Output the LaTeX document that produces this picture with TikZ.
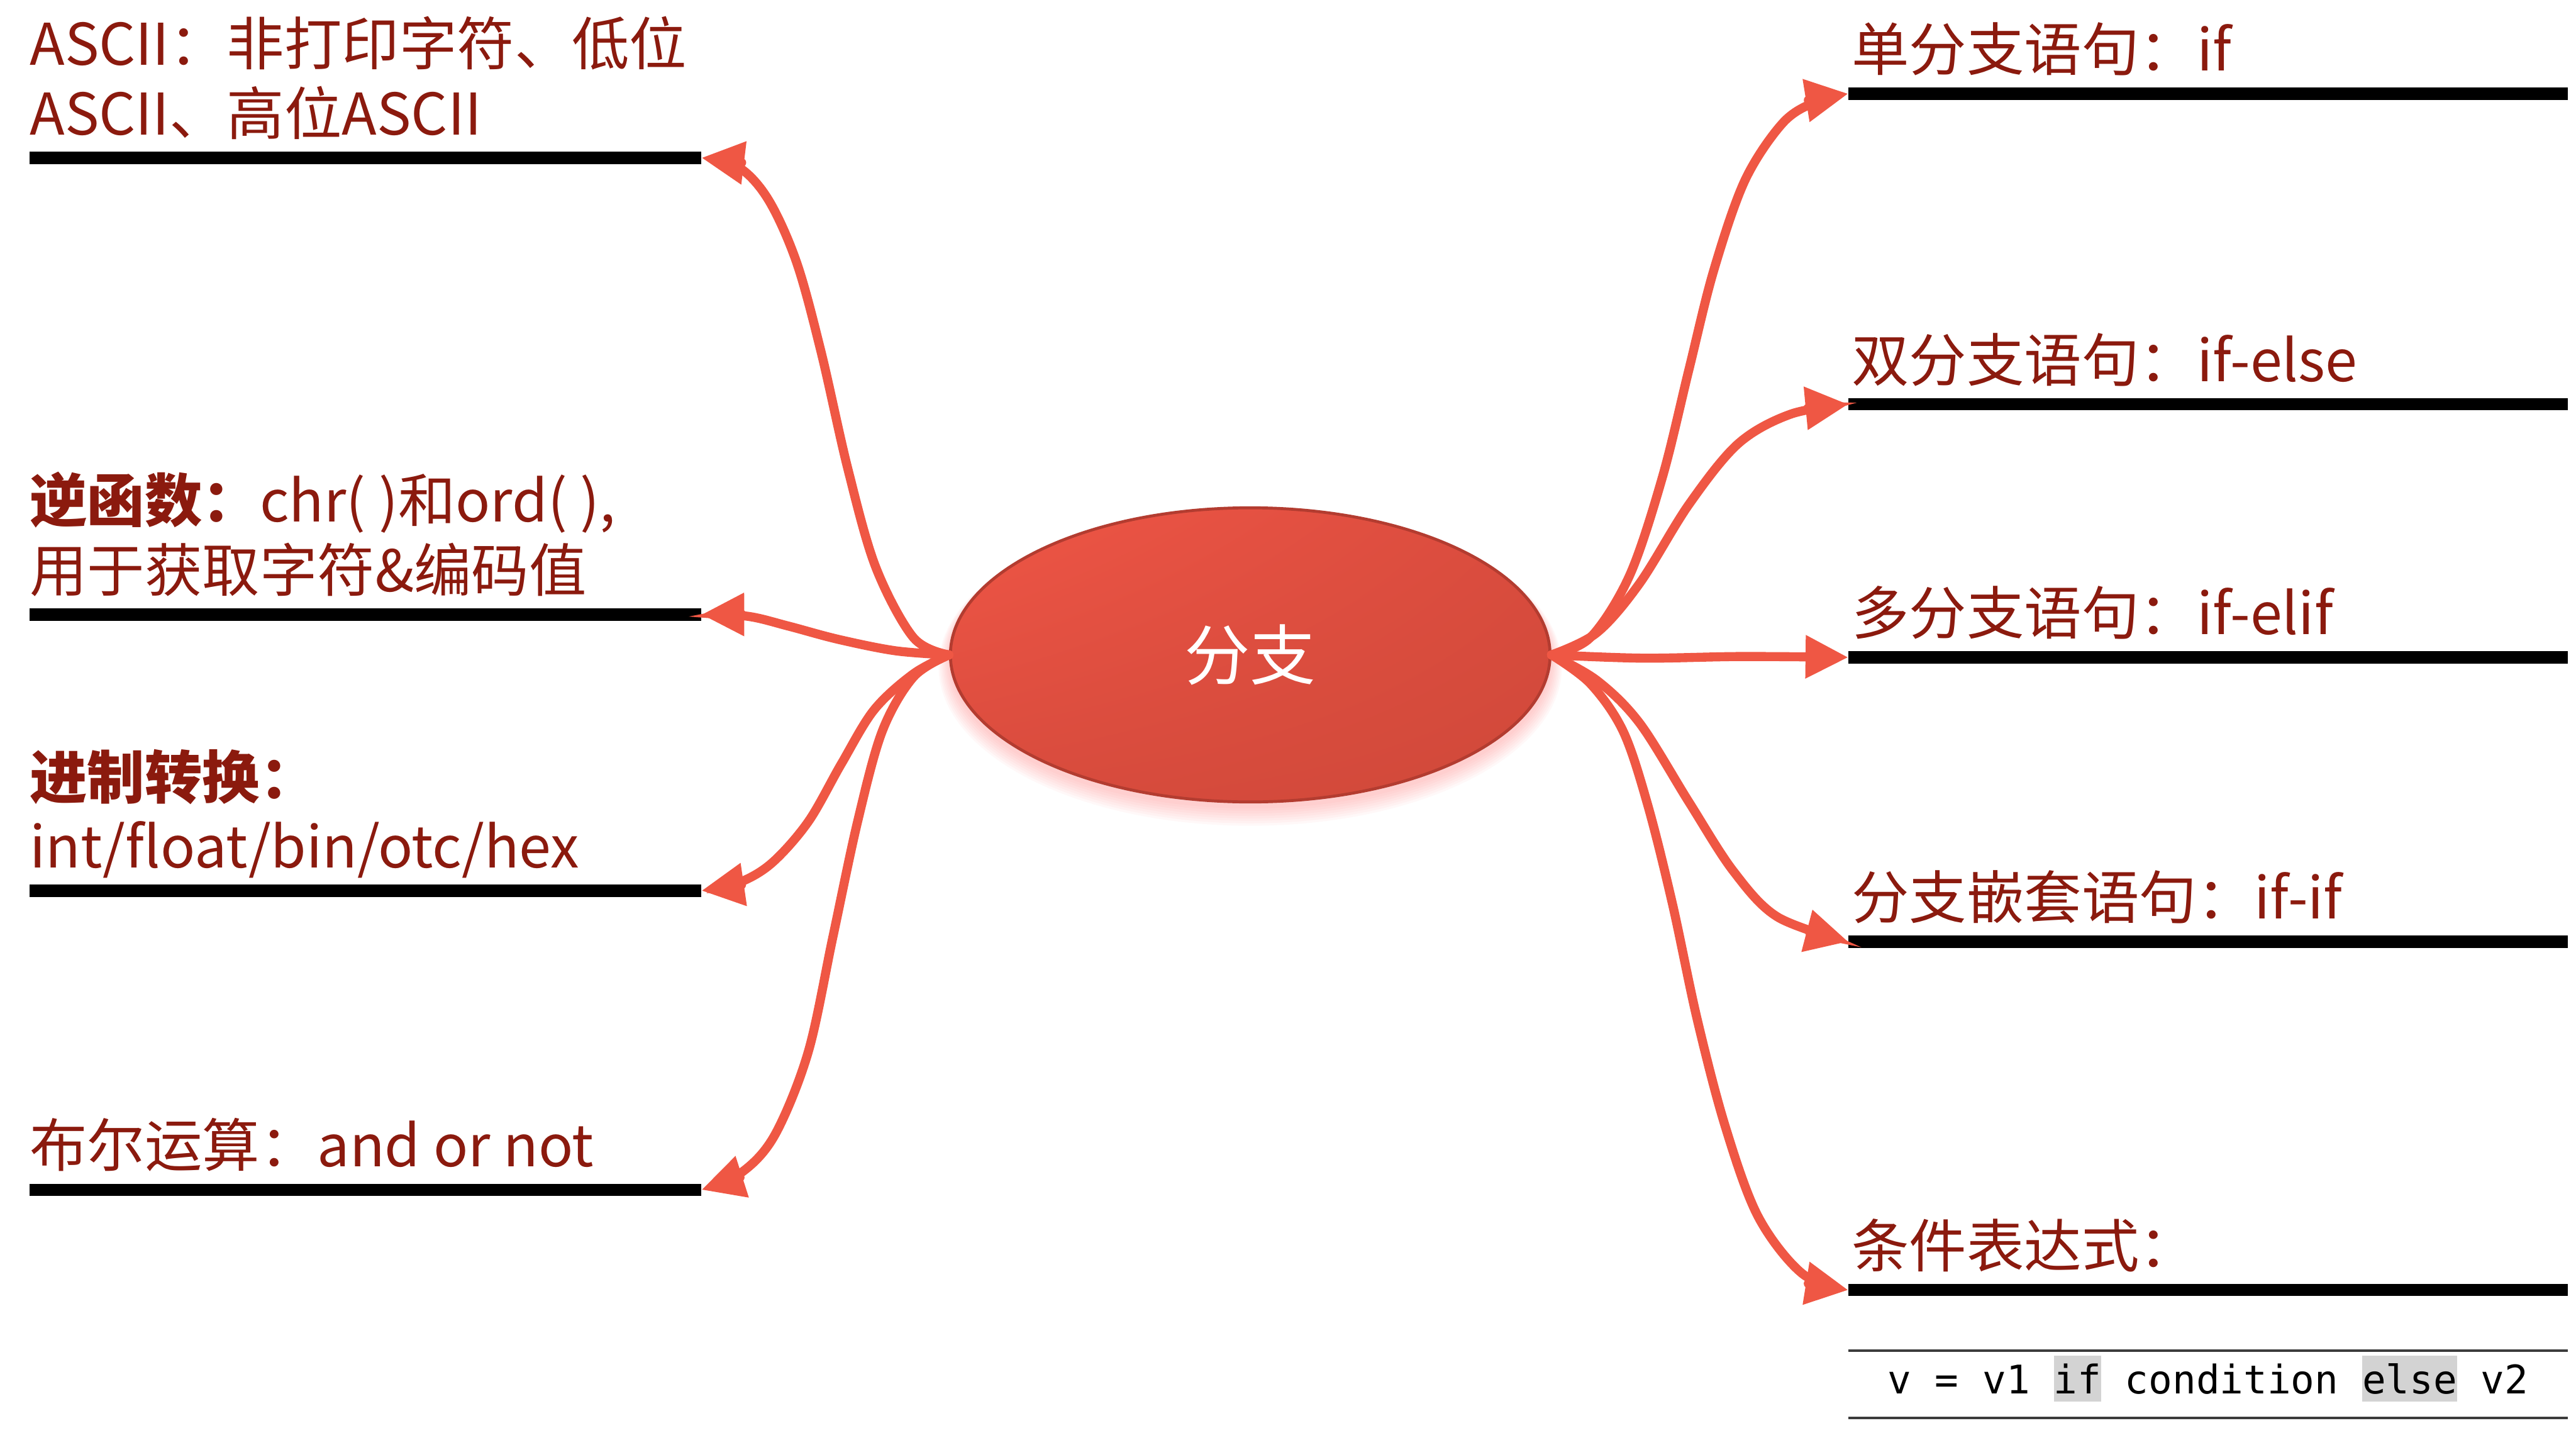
\documentclass[tikz,border=0pt]{standalone}
\usepackage{fontspec}
\setmainfont{Noto Sans CJK SC}
\newfontfamily\codefont{DejaVu Sans Mono}
\usetikzlibrary{arrows.meta,shapes.geometric,shadings}
\definecolor{txt}{HTML}{8B1A0E}
\definecolor{conn}{HTML}{EF5744}
\definecolor{hlgray}{HTML}{D3D3D3}
\definecolor{ebord}{HTML}{B33C30}
\definecolor{rulegray}{HTML}{3C3C3C}
\definecolor{eUL}{RGB}{240,86,70}
\definecolor{eUR}{RGB}{218,76,62}
\definecolor{eLL}{RGB}{216,75,61}
\definecolor{eLR}{RGB}{208,73,58}
\newcommand\codehl[1]{{\setlength{\fboxsep}{0pt}\colorbox{hlgray}{\rule[-5pt]{0pt}{28pt}#1}}}
\begin{document}
\begin{tikzpicture}[x=1pt,y=-1pt,
  lbl/.style={anchor=base west, inner sep=0pt, text=txt, font=\fontsize{35}{42.7}\selectfont},
  bar/.style={line width=7.5pt, black},
  link/.style={draw=conn, line width=5.5pt, line cap=round, -{Triangle[length=26pt,width=25pt]}},
  coderule/.style={draw=rulegray, line width=1.5pt},
]
\useasboundingbox (0,0) rectangle (1568,879.2);

% shadow of central ellipse
\foreach \k in {1,...,8}
  \fill[red!55!white, opacity=0.05] (761,{401+\k*0.6}) ellipse [x radius={(182.5+\k*0.9)*1pt}, y radius={(89.5+\k*0.9)*1pt}];

\node[ellipse, minimum width=365pt, minimum height=179pt, draw=ebord, line width=1.8pt,
      upper left=eUL, upper right=eUR, lower left=eLL, lower right=eLR,
      text=white, font=\fontsize{40}{48}\selectfont] (c) at (761,398.5) {分支};

% left texts and bars
\node[lbl] (t1a) at (18,39.5) {ASCII：非打印字符、低位};
\node[lbl] (t1b) at (18,82) {ASCII、高位ASCII};
\node[lbl] (t2a) at (18,317.5) {\textbf{逆函数：}chr( )和ord( ),};
\node[lbl] (t2b) at (18,360) {用于获取字符\&编码值};
\node[lbl] (t3a) at (18,486) {\textbf{进制转换：}};
\node[lbl] (t3b) at (18,528) {int/float/bin/otc/hex};
\node[lbl] (t4a) at (18,710) {布尔运算：and or not};

\coordinate (L1s) at (18,96);  \coordinate (L1) at (427,96);
\coordinate (L2s) at (18,374); \coordinate (L2) at (427,374);
\coordinate (L3s) at (18,542); \coordinate (L3) at (427,542);
\coordinate (L4s) at (18,724); \coordinate (L4) at (427,724);
\foreach \b in {1,2,3,4} \draw[bar] (L\b s) -- (L\b);

% right texts and bars
\node[lbl] (r1) at (1127,43) {单分支语句：if};
\node[lbl] (r2) at (1127,232) {双分支语句：if-else};
\node[lbl] (r3) at (1127,386) {多分支语句：if-elif};
\node[lbl] (r4) at (1127,559) {分支嵌套语句：if-if};
\node[lbl] (r5) at (1127,771) {条件表达式：};

\coordinate (R1) at (1125,57);  \coordinate (R1e) at (1563,57);
\coordinate (R2) at (1125,246); \coordinate (R2e) at (1563,246);
\coordinate (R3) at (1125,400); \coordinate (R3e) at (1563,400);
\coordinate (R4) at (1125,573); \coordinate (R4e) at (1563,573);
\coordinate (R5) at (1125,785); \coordinate (R5e) at (1563,785);
\foreach \b in {1,...,5} \draw[bar] (R\b) -- (R\b e);

% code line
\coordinate (C1a) at (1125,822); \coordinate (C1b) at (1563,822);
\coordinate (C2a) at (1125,863); \coordinate (C2b) at (1563,863);
\draw[coderule] (C1a) -- (C1b);
\draw[coderule] (C2a) -- (C2b);
\node[anchor=base, inner sep=0pt, font=\codefont\fontsize{24}{28}\selectfont] (code) at (1344,848)
  {v = v1 \codehl{if} condition \codehl{else} v2};

% connectors left
\draw[link] plot[smooth, tension=0.55] coordinates {(c.west) (556,388) (533,345) (516,285) (500,215) (485,160) (468,122) (450,102) (L1)};
\draw[link] plot[smooth, tension=0.55] coordinates {(c.west) (545,396) (510,389) (480,381) (455,375) (L2)};
\draw[link] plot[smooth, tension=0.55] coordinates {(c.west) (556,410) (532,432) (512,465) (492,500) (470,525) (450,537) (L3)};
\draw[link] plot[smooth, tension=0.55] coordinates {(c.west) (556,412) (537,445) (522,500) (507,570) (492,640) (472,690) (452,713) (L4)};

% connectors right
\draw[link] plot[smooth, tension=0.55] coordinates {(c.east) (968,388) (992,350) (1012,290) (1028,225) (1043,165) (1062,110) (1085,75) (1105,62) (R1)};
\draw[link] plot[smooth, tension=0.55] coordinates {(c.east) (972,385) (998,355) (1028,307) (1058,270) (1090,252) (R2)};
\draw[link] plot[smooth, tension=0.55] coordinates {(c.east) (1000,400.5) (1060,399.5) (R3)};
\draw[link] plot[smooth, tension=0.55] coordinates {(c.east) (972,414) (998,440) (1028,488) (1055,530) (1082,558) (R4)};
\draw[link] plot[smooth, tension=0.55] coordinates {(c.east) (968,416) (988,445) (1003,490) (1018,550) (1033,620) (1050,685) (1070,740) (1097,775) (R5)};
\end{tikzpicture}
\end{document}
